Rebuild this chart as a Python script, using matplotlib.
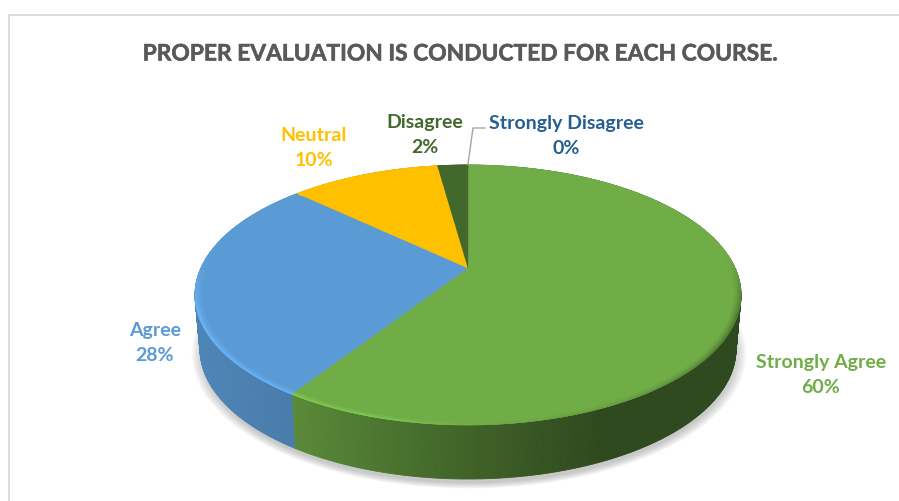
import numpy as np
import matplotlib
matplotlib.use("Agg")
import matplotlib.pyplot as plt
import matplotlib.patheffects as pe
from matplotlib.collections import PolyCollection
from matplotlib.colors import to_rgb

plt.rcParams["font.family"] = ["Lato", "DejaVu Sans"]

TITLE = "PROPER EVALUATION IS CONDUCTED FOR EACH COURSE."
categories = ["Strongly Agree", "Agree", "Neutral", "Disagree", "Strongly Disagree"]
values = [60, 28, 10, 2, 0]
colors = ["#70ad47", "#5b9bd5", "#ffc000", "#43682b", "#255e91"]
label_pos = [(821, 375), (155, 343), (314, 148), (425, 135), (566, 136)]

# pie geometry in pixels: ellipse of the top face, apex sits above its centre
CX, CY, RX, RY = 468, 296, 273, 130
APEX_Y = 269
DEPTH, BOTTOM_RX = 54, 268
T = 0.12


def project(theta, rx=RX, ry=RY, cy=CY, scale=1.0):
    # theta clockwise from 12 o'clock, warped a bit for the perspective
    u, v = np.sin(theta), -np.cos(theta)
    d = 1 - T * v
    phi = np.arctan2(u * np.sqrt(1 - T**2) / d, (v - T) / d)
    return CX + rx * scale * np.sin(phi), cy + ry * scale * np.cos(phi)


def wall_shade(xn):
    return np.interp(xn, [-1, -0.65, 0, 0.5, 1], [0.86, 0.8, 0.57, 0.42, 0.42])


def rim_shade(xn):
    left = np.interp(xn, [-1, -0.35, 0.05], [1.16, 1.16, 1.0])
    right = np.interp(xn, [0.05, 0.6, 0.85, 1], [1.0, 0.9, 0.8, 0.7])
    return np.where(xn < 0.05, left, right)


fig = plt.figure(figsize=(8.99, 5.02), dpi=100)
ax = fig.add_axes([0, 0, 1, 1])
ax.set_xlim(0, 899)
ax.set_ylim(502, 0)
ax.axis("off")

# chart frame, only top and left fall inside the crop
ax.plot([9, 9, 899], [502, 16, 16], color="#d9d9d9", lw=1.3, solid_joinstyle="miter", zorder=1)

# soft shadow under the pie
t = np.linspace(0, 2 * np.pi, 240)
for s in np.linspace(1.035, 0.99, 14):
    ax.fill(CX + 1 + 268 * s * np.sin(t), CY + 59 + 130 * s * np.cos(t),
            color="#808080", alpha=0.035, lw=0, zorder=2)

edges = np.cumsum([0] + values) / sum(values) * 2 * np.pi

# side wall
polys, fcs = [], []
for c, a0, a1 in zip(colors, edges[:-1], edges[1:]):
    if a1 <= a0:
        continue
    th = np.linspace(a0, a1, max(3, int((a1 - a0) * 90)))
    xt, yt = project(th)
    xb, yb = project(th, rx=BOTTOM_RX, cy=CY + DEPTH)
    for i in range(len(th) - 1):
        polys.append([(xt[i], yt[i]), (xt[i + 1], yt[i + 1]), (xb[i + 1], yb[i + 1]), (xb[i], yb[i])])
        f = wall_shade((xt[i] - CX) / RX)
        fcs.append(tuple(np.array(to_rgb(c)) * f))
ax.add_collection(PolyCollection(polys, facecolors=fcs, edgecolors=fcs, linewidths=0.6, zorder=3))

# top face
for c, a0, a1 in zip(colors, edges[:-1], edges[1:]):
    if a1 <= a0:
        continue
    x, y = project(np.linspace(a0, a1, 200))
    ax.fill(np.r_[CX, x], np.r_[APEX_Y, y], color=c, lw=0.3, zorder=4)

# bevel along the outer edge, fading into the face
rim, rim_c = [], []
for c, a0, a1 in zip(colors, edges[:-1], edges[1:]):
    if a1 <= a0:
        continue
    th = np.linspace(a0, a1, max(3, int((a1 - a0) * 90)))
    base = np.array(to_rgb(c))
    for s0, s1, w in [(1.0, 0.992, 1.0), (0.992, 0.984, 0.65), (0.984, 0.976, 0.3)]:
        xo, yo = project(th, scale=s0)
        xi, yi = project(th, scale=s1)
        for i in range(len(th) - 1):
            rim.append([(xo[i], yo[i]), (xo[i + 1], yo[i + 1]), (xi[i + 1], yi[i + 1]), (xi[i], yi[i])])
            f = rim_shade((xo[i] - CX) / RX)
            # the lower half gets the bevel, the far edge stays flat
            keep = np.clip((yo[i] - (CY - 40)) / 60, 0, 1) * w
            rim_c.append(tuple(np.clip(base * (1 + (f - 1) * keep), 0, 1)))
ax.add_collection(PolyCollection(rim, facecolors=rim_c, edgecolors=rim_c, linewidths=0.4, zorder=5))

# leader for the empty slice
ax.plot([468, 473, 485], [165, 129, 129], color="#a6a6a6", lw=1.0, zorder=6)

for name, val, c, (lx, ly) in zip(categories, values, colors, label_pos):
    ax.text(lx, ly, f"{name}\n{val}%", color=c, fontsize=14, fontweight="bold",
            ha="center", va="center", linespacing=1.55, zorder=7)

ax.text(460.5, 55, TITLE, color="#595959", fontsize=16.4, fontweight="bold",
        ha="center", va="center", zorder=7,
        path_effects=[pe.withStroke(linewidth=0.4, foreground="#595959")])

fig.savefig("out.png", dpi=100)
